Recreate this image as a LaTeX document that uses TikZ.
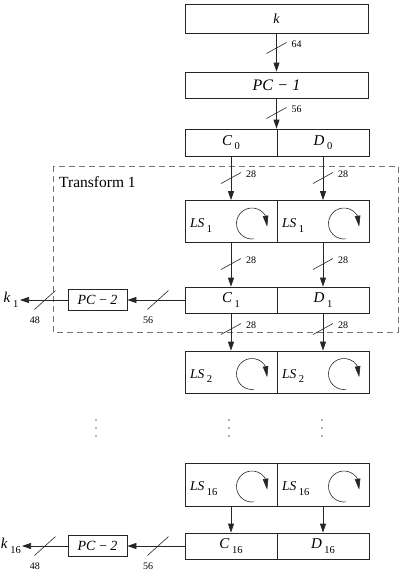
\documentclass[tikz,border=0pt]{standalone}
\usepackage{fontspec}
\setmainfont{Liberation Serif}
\usetikzlibrary{arrows.meta,calc,bending}
\newcommand\subl[2]{\textit{#1}\hspace{2.5pt}\raisebox{-4.5pt}{\fontsize{10.5}{12}\selectfont #2}}
\begin{document}
\begin{tikzpicture}[x=1pt,y=-1pt,font=\fontsize{14}{16}\selectfont,
  line/.style={line width=0.75pt,draw=black!85},
  box/.style={line, rectangle, inner sep=0pt, minimum width=183pt},
  half/.style={box, minimum width=92pt},
  arr/.style={line,-{Triangle[length=9pt,width=6pt]}},
  circ/.style={line width=0.6pt,draw=black!85,-{Triangle[length=11pt,width=5.5pt,flex]}},
  sl/.style={line width=0.6pt,draw=black!85},
  num/.style={font=\fontsize{10}{12}\selectfont, inner sep=0pt},
  lsl/.style={anchor=west,font=\fontsize{13.5}{15}\selectfont},
  dot/.style={fill=black!60}]
\useasboundingbox (0,0) rectangle (400,571);

% macros for slashes
\newcommand\vsl[4]{\draw[sl] (#1-10,#2+5.5) -- (#1+10,#2-5.5); \node[num,anchor=west] (#4) at (#1+15,#2-4) {#3};}
\newcommand\hsl[4]{\draw[sl] (#1-10.5,#2+9.5) -- (#1+10.5,#2-9.5); \node[num] (#4) at (#1-10,#2+20) {#3};}
\newcommand\rot[1]{\draw[circ] ($(#1.center)+(21,2)+(278:15.5pt)$) arc[start angle=278,end angle=-12,radius=15.5pt];}

% dashed transform frame
\draw[line width=0.8pt,draw=black!55,dash pattern=on 6pt off 4pt] (53,166) rectangle (398,332);
\node[anchor=west,font=\fontsize{15.5}{17}\selectfont,inner sep=0pt] (tr) at (59,182) {Transform 1};

% top chain
\node[box, minimum height=29pt] (k) at (276.5,18.5) {\textit{k}};
\node[box, minimum height=26pt,font=\fontsize{16}{18}\selectfont] (pc1) at (276.5,85) {\textit{PC}\hspace{5pt}−\hspace{5pt}\textit{1}};
\node[half, minimum height=27pt,font=\fontsize{15}{17}\selectfont] (c0) at (231,142.5) {\subl{C}{0}};
\node[half, minimum height=27pt,font=\fontsize{15}{17}\selectfont] (d0) at (323,142.5) {\subl{D}{0}};
\draw[arr] (k) -- (pc1);
\vsl{276.5}{48}{64}{n64}
\draw[arr] (pc1) -- (pc1 |- c0.north);
\vsl{276.5}{113}{56}{n56}

% round 1
\node[half, minimum height=42pt] (ls1a) at (231,221.5) {};
\node[half, minimum height=42pt] (ls1b) at (323,221.5) {};
\node[lsl] (ls1at) at ($(ls1a.west)+(2,4)$) {\subl{LS}{1}};
\node[lsl] (ls1bt) at ($(ls1b.west)+(2,4)$) {\subl{LS}{1}};
\rot{ls1a}\rot{ls1b}
\draw[arr] (c0) -- (ls1a);
\draw[arr] (d0) -- (ls1b);
\vsl{231}{178}{28}{n28a}
\vsl{323}{178}{28}{n28b}

\node[half, minimum height=26pt,font=\fontsize{15}{17}\selectfont] (c1) at (231,300) {\subl{C}{1}};
\node[half, minimum height=26pt,font=\fontsize{15}{17}\selectfont] (d1) at (323,300) {\subl{D}{1}};
\draw[arr] (ls1a) -- (c1);
\draw[arr] (ls1b) -- (d1);
\vsl{231}{264}{28}{n28c}
\vsl{323}{264}{28}{n28d}

\node[box, minimum width=59pt, minimum height=21pt] (pc2a) at (97.5,300) {\textit{PC} − \textit{2}};
\coordinate (k1e) at (20,300);
\node[anchor=east,inner sep=1.5pt,font=\fontsize{15}{17}\selectfont] (k1) at (k1e) {\subl{k}{1}};
\draw[arr] (c1) -- (pc2a);
\draw[arr] (pc2a) -- (k1e);
\hsl{158}{300}{56}{n56a}
\hsl{45}{300}{48}{n48a}

% round 2
\node[half, minimum height=42pt] (ls2a) at (231,372) {};
\node[half, minimum height=42pt] (ls2b) at (323,372) {};
\node[lsl] (ls2at) at ($(ls2a.west)+(2,4)$) {\subl{LS}{2}};
\node[lsl] (ls2bt) at ($(ls2b.west)+(2,4)$) {\subl{LS}{2}};
\rot{ls2a}\rot{ls2b}
\draw[arr] (c1) -- (ls2a);
\draw[arr] (d1) -- (ls2b);
\vsl{231}{329}{28}{n28e}
\vsl{323}{329}{28}{n28f}

% dots
\foreach \yy in {420,428,436}{
  \fill[dot] (96,\yy) circle[radius=0.9pt];
  \fill[dot] (229,\yy) circle[radius=0.9pt];
  \fill[dot] (322,\yy) circle[radius=0.9pt];
}

% round 16
\node[half, minimum height=43pt] (ls16a) at (231,484.5) {};
\node[half, minimum height=43pt] (ls16b) at (323,484.5) {};
\node[lsl] (ls16at) at ($(ls16a.west)+(2,4)$) {\subl{LS}{16}};
\node[lsl] (ls16bt) at ($(ls16b.west)+(2,4)$) {\subl{LS}{16}};
\rot{ls16a}\rot{ls16b}

\node[half, minimum height=26pt,font=\fontsize{15}{17}\selectfont] (c16) at (231,546) {\subl{C}{16}};
\node[half, minimum height=26pt,font=\fontsize{15}{17}\selectfont] (d16) at (323,546) {\subl{D}{16}};
\draw[arr] (ls16a) -- (c16);
\draw[arr] (ls16b) -- (d16);

\node[box, minimum width=59pt, minimum height=21pt] (pc2b) at (97.5,546) {\textit{PC} − \textit{2}};
\coordinate (k16e) at (22,546);
\node[anchor=east,inner sep=1pt,font=\fontsize{15}{17}\selectfont] (k16) at (k16e) {\subl{k}{16}};
\draw[arr] (c16) -- (pc2b);
\draw[arr] (pc2b) -- (k16e);
\hsl{158}{546}{56}{n56b}
\hsl{45}{546}{48}{n48b}
\end{tikzpicture}
\end{document}
